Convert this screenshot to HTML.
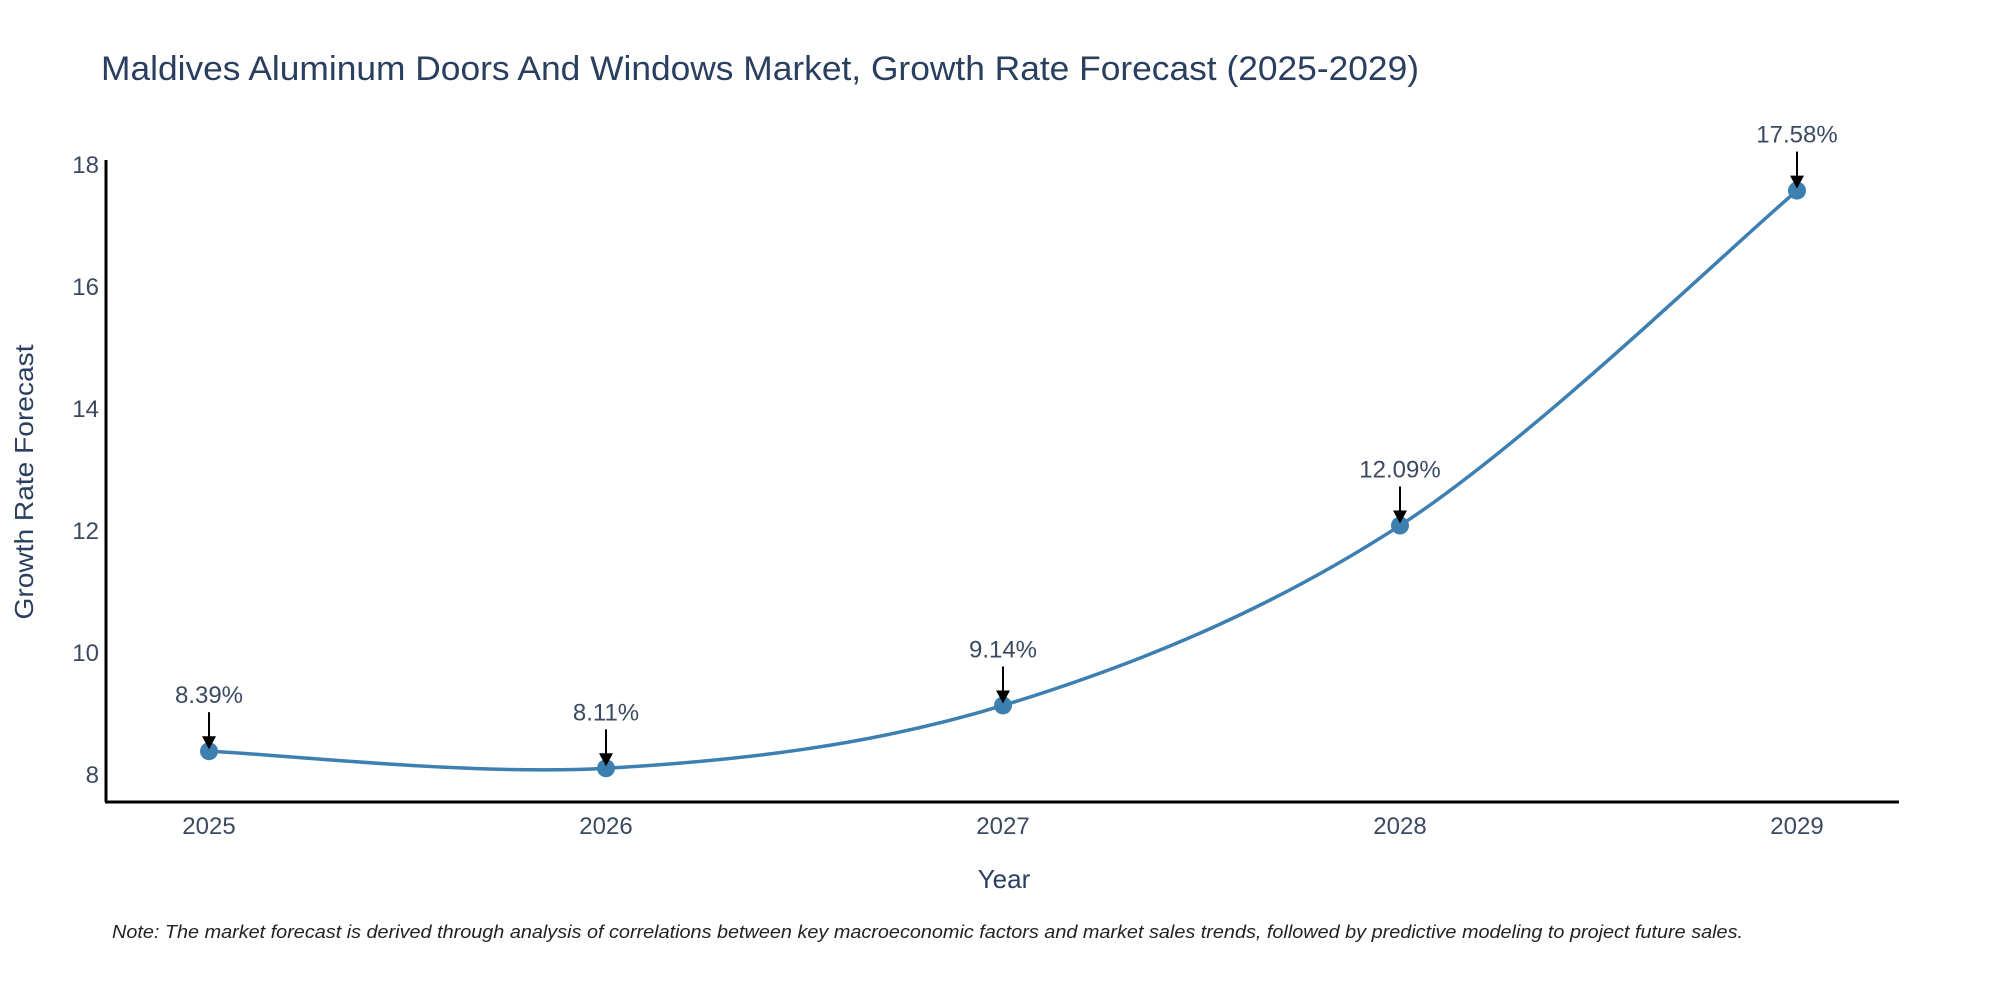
<!DOCTYPE html>
<html><head><meta charset="utf-8"><style>
html,body{margin:0;padding:0;background:#fff;}
svg{display:block;font-family:"Liberation Sans",sans-serif;}
</style></head><body>
<svg id="chart" width="2000" height="1000" viewBox="0 0 2000 1000" xmlns="http://www.w3.org/2000/svg">
<text x="101" y="80" font-size="34" fill="#2a3f5f" textLength="1318" lengthAdjust="spacingAndGlyphs">Maldives Aluminum Doors And Windows Market, Growth Rate Forecast (2025-2029)</text>
<g id="yticks"></g>
<g id="xticks"></g>
<line x1="106" y1="160" x2="106" y2="802" stroke="#000" stroke-width="3"/>
<line x1="105" y1="802" x2="1899" y2="802" stroke="#000" stroke-width="3"/>
<path id="line" fill="none" stroke="#3d7fb1" stroke-width="3.5"/>
<g id="points"></g>
<g id="annots"></g>
<text x="1004" y="888" font-size="26" fill="#2a3f5f" text-anchor="middle">Year</text>
<text transform="translate(33,482) rotate(-90)" font-size="26" fill="#2a3f5f" text-anchor="middle" textLength="275" lengthAdjust="spacingAndGlyphs">Growth Rate Forecast</text>
<text x="112" y="938" font-size="18" font-style="italic" fill="#222" textLength="1631" lengthAdjust="spacingAndGlyphs">Note: The market forecast is derived through analysis of correlations between key macroeconomic factors and market sales trends, followed by predictive modeling to project future sales.</text>
</svg>
<script>
const years = ["2025","2026","2027","2028","2029"];
const values = [8.39, 8.11, 9.14, 12.09, 17.58];
const labels = ["8.39%","8.11%","9.14%","12.09%","17.58%"];
const yTickVals = [8,10,12,14,16,18];

const NS="http://www.w3.org/2000/svg";
function X(i){return 209 + i*397;}
function Y(v){return 775 - (v-8)*61;}
function mk(tag,attrs,parent,txt){const e=document.createElementNS(NS,tag);for(const k in attrs)e.setAttribute(k,attrs[k]);if(txt!==undefined)e.textContent=txt;parent.appendChild(e);return e;}

const yt=document.getElementById('yticks');
yTickVals.forEach(v=>{
  const t=mk('text',{x:99,y:Y(v)+8,'font-size':24,fill:'#3b4a60','text-anchor':'end'},yt,String(v));
  
  
});
const xt=document.getElementById('xticks');
years.forEach((y,i)=>{
  const t=mk('text',{x:X(i),y:834,'font-size':24,fill:'#3b4a60','text-anchor':'middle'},xt,y);
  
  
});

const P=values.map((v,i)=>[X(i),Y(v)]);
let d=`M${P[0][0]},${P[0][1]}`;
for(let i=0;i<P.length-1;i++){
  const p0=P[Math.max(i-1,0)],p1=P[i],p2=P[i+1],p3=P[Math.min(i+2,P.length-1)];
  const c1=[p1[0]+(p2[0]-p0[0])/6,p1[1]+(p2[1]-p0[1])/6];
  const c2=[p2[0]-(p3[0]-p1[0])/6,p2[1]-(p3[1]-p1[1])/6];
  d+=` C${c1[0]},${c1[1]} ${c2[0]},${c2[1]} ${p2[0]},${p2[1]}`;
}
document.getElementById('line').setAttribute('d',d);

const pts=document.getElementById('points');
const an=document.getElementById('annots');
values.forEach((v,i)=>{
  const x=X(i),y=Y(v);
  const c=mk('circle',{cx:x,cy:y,r:9,fill:'#3d7fb1'},pts);
  
  
  const l=mk('line',{x1:x,y1:y-39,x2:x,y2:y-12,stroke:'#000','stroke-width':2},an);
  
  
  const h=mk('polygon',{points:`${x-7},${y-15} ${x+7},${y-15} ${x},${y-2}`,fill:'#000'},an);
  
  
  const t=mk('text',{x:x,y:y-48,'font-size':24,fill:'#3b4a60','text-anchor':'middle'},an,labels[i]);
  
  
});
</script>
</body></html>
